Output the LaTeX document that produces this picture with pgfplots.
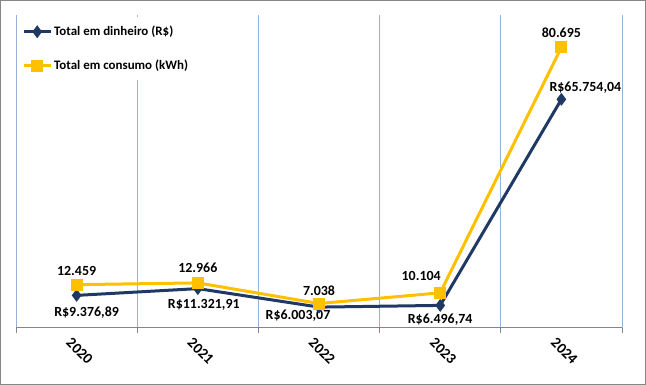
\documentclass[border=0pt]{standalone}
\usepackage{pgfplots}
\pgfplotsset{compat=1.18}
\usepackage{fontspec}
\setmainfont{Carlito}
\definecolor{navy}{HTML}{1F3864}
\definecolor{gold}{HTML}{FFC000}
\definecolor{gridblue}{HTML}{95B3D7}
\definecolor{axgray}{HTML}{868686}
\newcommand{\lbl}{\fontsize{14}{16}\selectfont\bfseries}
\begin{document}
\begin{tikzpicture}
\begin{axis}[
  scale only axis, width=606bp, height=313bp,
  xmin=-0.5, xmax=4.5, ymin=0, ymax=90000,
  axis x line*=bottom, axis y line=none,
  xtick={0,...,4}, xticklabels={2020,2021,2022,2023,2024},
  major x tick style={draw=none},
  minor xtick={-0.5,0.5,1.5,2.5,3.5,4.5},
  xminorgrids, minor x grid style={gridblue, line width=0.75bp},
  minor tick length=5bp, tick align=outside,
  minor x tick style={axgray, line width=0.75bp},
  x axis line style={axgray, line width=1bp, -},
  xticklabel style={font=\fontsize{15}{17}\selectfont\bfseries, rotate=-45, anchor=north west, inner sep=1bp, yshift=-5bp, xshift=-1bp},
  clip=false,
  legend style={at={(rel axis cs:0,1)}, anchor=north west, draw=none, fill=white,
    xshift=2bp, yshift=-2bp,
    font=\fontsize{13}{15}\selectfont\bfseries, inner xsep=4bp, inner ysep=7bp,
    row sep=19bp, legend cell align=left,
    /tikz/every even column/.append style={column sep=0bp}},
  legend image code/.code={\draw[mark repeat=2,mark phase=2] plot coordinates {(0bp,0bp) (13.5bp,0bp) (27bp,0bp)};},
]
\addplot[navy, line width=3bp, mark=diamond*, mark size=4bp, mark options={solid}]
  coordinates {(0,9376.89) (1,11321.91) (2,6003.07) (3,6496.74) (4,65754.04)};
\addlegendentry{Total em dinheiro (R\$)}
\addplot[gold, line width=3bp, mark=square*, mark size=4.5bp, mark options={solid}]
  coordinates {(0,12459) (1,12966) (2,7038) (3,10104) (4,80695)};
\addlegendentry{Total em consumo (kWh)}
% data labels (text)
\node[font=\lbl] at ([shift={(0bp,14bp)}]axis cs:0,12459) {12.459};
\node[font=\lbl] at ([shift={(0bp,15bp)}]axis cs:1,12966) {12.966};
\node[font=\lbl] at ([shift={(0bp,13bp)}]axis cs:2,7038) {7.038};
\node[font=\lbl] at ([shift={(-19bp,17bp)}]axis cs:3,10104) {10.104};
\node[font=\lbl] at ([shift={(0bp,15bp)}]axis cs:4,80695) {80.695};
\node[font=\lbl] at ([shift={(10bp,-17bp)}]axis cs:0,9376.89) {R\$9.376,89};
\node[font=\lbl] at ([shift={(6bp,-16bp)}]axis cs:1,11321.91) {R\$11.321,91};
\node[font=\lbl] at ([shift={(-21bp,-9bp)}]axis cs:2,6003.07) {R\$6.003,07};
\node[font=\lbl] at ([shift={(0bp,-14bp)}]axis cs:3,6496.74) {R\$6.496,74};
\node[font=\lbl] at ([shift={(24bp,12bp)}]axis cs:4,65754.04) {R\$65.754,04};
\coordinate (bl) at (rel axis cs:0,0);
\coordinate (tr) at (rel axis cs:1,1);
\end{axis}
\draw[axgray, line width=1bp] ([shift={(-15.5bp,-56.5bp)}]bl) rectangle ([shift={(23.5bp,14.5bp)}]tr);
\end{tikzpicture}
\end{document}
